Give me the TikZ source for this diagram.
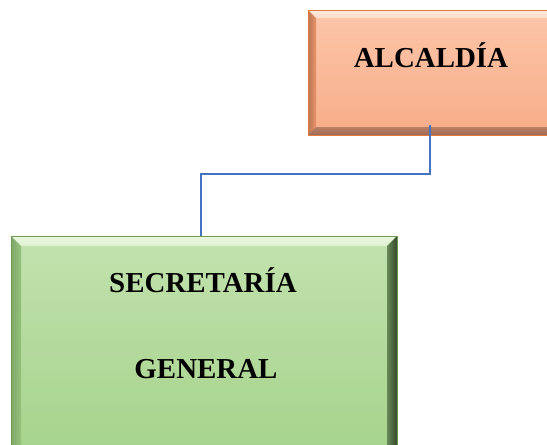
\documentclass[tikz,border=0pt]{standalone}
\usepackage{fontspec}
\setmainfont{Liberation Serif}
\definecolor{orangeTop}{HTML}{FCC6A9}
\definecolor{orangeBot}{HTML}{F8AD88}
\definecolor{orangeLight}{HTML}{FEDCC8}
\definecolor{orangeSide}{HTML}{E8946A}
\definecolor{orangeDark}{HTML}{9E6A55}
\definecolor{orangeEdge}{HTML}{E27A3E}
\definecolor{greenTop}{HTML}{C2E2AE}
\definecolor{greenBot}{HTML}{A5D38B}
\definecolor{greenLight}{HTML}{DDF1D0}
\definecolor{greenSide}{HTML}{95C37C}
\definecolor{greenDark}{HTML}{34472A}
\definecolor{greenEdge}{HTML}{6E9B50}
\definecolor{linkBlue}{HTML}{4472C4}
\tikzset{
  unitbox/.style={rectangle, draw=none, inner sep=0pt},
  title/.style={font=\bfseries\fontsize{21.7}{26}\selectfont, inner sep=0pt},
  link/.style={draw=linkBlue, line width=0.8pt}
}
\begin{document}
\begin{tikzpicture}[x=0.75pt, y=-0.75pt]
\useasboundingbox (0,0) rectangle (547,444);
\clip (0,0) rectangle (547,444);

% ---- ALCALDÍA box (bevelled) ----
\node[unitbox, minimum width=183pt, minimum height=93.75pt] (alc) at (430,72.5) {};
\shade[top color=orangeTop, bottom color=orangeBot] (308,10) rectangle (560,135);
\shade[top color=white!40!orangeLight, bottom color=orangeLight] (308,10) -- (560,10) -- (552,18) -- (316,18) -- cycle;
\shade[left color=orangeSide!80!black, right color=orangeSide] (308,10) -- (316,18) -- (316,127) -- (308,135) -- cycle;
\shade[top color=orangeDark!70!orangeBot, bottom color=orangeDark] (308,135) -- (316,127) -- (552,127) -- (560,135) -- cycle;
\draw[orangeEdge, line width=0.6pt] (308,10) rectangle (560,135);
\node[title] (alctext) at (431,55) {ALCALDÍA};

% ---- SECRETARÍA GENERAL box (bevelled) ----
\node[unitbox, minimum width=289.5pt, minimum height=168pt] (sec) at (204,348) {};
\shade[top color=greenTop, bottom color=greenBot] (11,236) rectangle (397,460);
\shade[top color=greenLight!60!white, bottom color=greenLight] (11,236) -- (397,236) -- (387,246) -- (21,246) -- cycle;
\shade[left color=greenSide!85!black, right color=greenSide] (11,236) -- (21,246) -- (21,460) -- (11,460) -- cycle;
\shade[left color=greenSide!70!black, right color=greenDark] (397,236) -- (387,246) -- (387,460) -- (397,460) -- cycle;
\draw[greenEdge, line width=0.6pt] (11,236) rectangle (397,460);
\node[title] (sectext1) at (203,280) {SECRETARÍA};
\node[title] (sectext2) at (206,369) {GENERAL};

% ---- connector ----
\coordinate (bend) at (201,174);
\draw[link] ([yshift=7.5pt]alc.south) |- (bend) -- (bend |- sec.north);
\end{tikzpicture}
\end{document}
